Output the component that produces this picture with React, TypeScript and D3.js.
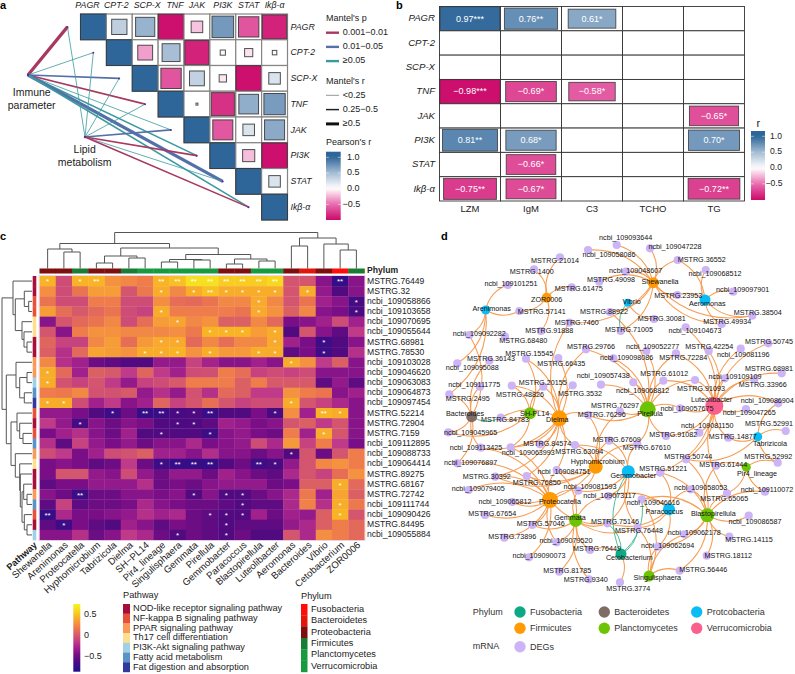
import React from "react";
import * as d3 from "d3";

const FONT = "'Liberation Sans', Arial, sans-serif";

/* ---------- panel a ---------- */
const genes = ["PAGR", "CPT-2", "SCP-X", "TNF", "JAK", "PI3K", "STAT", "Ikβ-α"];
const pearsonRows: number[][] = [
  [1, 0.35, 0.55, -0.97, -0.2, 0.7, -0.62, -0.88],
  [1, -0.33, 0.48, -0.88, 0.04, -0.1, 0.03],
  [1, -0.62, 0.33, -0.08, -0.97, 0.2],
  [1, 0.006, -0.8, 0.58, 0.68],
  [1, -0.6, 0.2, 0.6],
  [1, -0.22, -0.97],
  [1, 0.2],
  [1],
];
const mantelSources = ["Immune", "Lipid"];
// p class: 0 = 0.001-0.01, 1 = 0.01-0.05, 2 = >=0.05; r class: 0 <0.25, 1 0.25-0.5, 2 >=0.5
const mantelP = [
  [0, 2, 1, 0, 2, 2, 1, 2],
  [2, 2, 2, 2, 1, 0, 2, 0],
];
const mantelR = [
  [2, 0, 1, 1, 0, 1, 2, 1],
  [0, 0, 0, 0, 1, 1, 0, 1],
];
const mantelPLabels = ["0.001−0.01", "0.01−0.05", "≥0.05"];
const mantelRLabels = ["<0.25", "0.25−0.5", "≥0.5"];

/* ---------- panel b ---------- */
const clinical = ["LZM", "IgM", "C3", "TCHO", "TG"];
const corrRows: (number | null)[][] = [
  [0.97, 0.76, 0.61, null, null],
  [null, null, null, null, null],
  [null, null, null, null, null],
  [-0.98, -0.69, -0.58, null, null],
  [null, null, null, null, -0.65],
  [0.81, 0.68, null, null, 0.7],
  [null, -0.66, null, null, null],
  [-0.75, -0.67, null, null, -0.72],
];
const corrStars = [
  ["***", "**", "*", "", ""],
  ["", "", "", "", ""],
  ["", "", "", "", ""],
  ["***", "*", "*", "", ""],
  ["", "", "", "", "*"],
  ["**", "*", "", "", "*"],
  ["", "*", "", "", ""],
  ["**", "*", "", "", "**"],
];

/* ---------- panel c ---------- */
const taxa = ["Shewanella", "Arenimonas", "Proteocatella", "Hyphomicrobium", "Tabrizicola", "Dielma", "SH−PL14", "Pir4_lineage", "Singulisphaera", "Gemmata", "Pirellula", "Gemmobacter", "Paracoccus", "Blastopirellula", "Luteolibacter", "Aeromonas", "Bacteroides", "Vibrio", "Cetobacterium", "ZOR0006"];
const taxaPhylum = [2, 2, 3, 2, 2, 3, 4, 4, 4, 4, 4, 2, 2, 4, 5, 2, 1, 2, 0, 3];
const phylumNames = ["Fusobacteria", "Bacteroidetes", "Proteobacteria", "Firmicutes", "Planctomycetes", "Verrucomicrobia"];
const phylumColors = ["#ff0d0d", "#e2170c", "#7d0f0f", "#1b7d35", "#1a9a3e", "#1a9a3e"];
const pathwayNames = ["NOD-like receptor signaling pathway", "NF-kappa B signaling pathway", "PPAR signaling pathway", "Th17 cell differentiation", "PI3K-Akt signaling pathway", "Fatty acid metabolism", "Fat digestion and absorption"];
const pathwayColors = ["#a50f3a", "#e8503a", "#f99a58", "#fce08f", "#9fd0e6", "#5b93c6", "#313a9a"];
const geneRows = ["MSTRG.76449", "MSTRG.32", "ncbi_109058866", "ncbi_109103658", "ncbi_109070695", "ncbi_109055644", "MSTRG.68981", "MSTRG.78530", "ncbi_109103028", "ncbi_109046620", "ncbi_109063083", "ncbi_109064873", "ncbi_109097454", "MSTRG.52214", "MSTRG.72904", "MSTRG.7159", "ncbi_109112895", "ncbi_109088733", "ncbi_109064414", "MSTRG.89275", "MSTRG.68167", "MSTRG.72742", "ncbi_109111744", "ncbi_109090426", "MSTRG.84495", "ncbi_109055884"];
const rowPathway = [0, 0, 1, 1, 3, 3, 0, 0, 2, 2, 4, 5, 6, 1, 0, 1, 5, 2, 3, 0, 0, 2, 5, 1, 0, 4];
const heat: number[][] = [
  [.45, -.05, .45, .45, .3, .25, .2, .45, .5, .65, .65, .55, .55, .55, .6, 0, 0, -.4, -.75, -.4],
  [.28, -.05, .15, .35, .35, 0, .18, .42, .25, .42, .5, .42, .42, .42, .42, 0, .42, -.35, -.6, -.4],
  [.15, -.05, -.05, .2, .2, -.05, -.05, .28, .12, .1, .15, .25, .25, .4, .25, 0, .15, -.3, -.4, -.65],
  [.35, .12, .02, .1, .15, -.05, -.1, .42, .2, .2, .2, .2, .15, .4, .3, .05, .25, -.4, -.45, -.65],
  [-.4, 0, .1, .15, .25, -.05, .12, .35, .38, .25, .3, .05, .05, .25, .1, -.45, -.4, -.3, -.05, -.3],
  [0, -.4, .2, .3, .3, .25, .25, .25, .28, .18, .45, .45, .45, .35, .42, -.6, 0, -.4, -.55, -.15],
  [.08, -.1, -.1, .25, .35, .12, .33, .4, .4, .1, .25, .12, .25, .25, .4, -.3, -.45, -.7, -.6, -.4],
  [.05, -.2, .1, .38, .35, .3, .42, .42, .45, .3, .42, .33, .33, .42, .42, -.55, -.45, -.7, -.6, -.2],
  [.25, -.2, -.3, -.5, -.55, -.6, -.6, -.35, -.35, -.1, -.28, -.4, -.4, -.3, -.4, .42, .3, -.15, .05, -.4],
  [.42, .1, -.3, .05, .02, -.15, .08, -.15, -.3, -.05, -.03, .2, .12, -.1, -.05, -.1, -.05, -.4, -.4, -.4],
  [.42, -.02, -.1, 0, -.15, -.35, -.1, -.05, .02, .2, .2, .2, .05, .2, .02, .02, .02, -.55, -.35, -.55],
  [.2, .18, .25, -.02, -.02, .02, -.35, -.2, -.35, -.02, -.2, .1, .05, -.15, -.15, .3, .2, .15, -.4, -.3],
  [.42, .42, -.05, -.3, -.15, -.4, -.3, .08, -.1, 0, .13, 0, -.1, -.05, -.05, .42, 0, -.1, -.25, -.4],
  [-.35, -.35, -.45, -.6, -.7, -.5, -.75, -.72, -.65, -.62, -.72, -.6, -.6, -.45, -.65, .28, -.3, .45, .42, -.4],
  [-.15, -.35, -.65, -.4, -.5, -.4, -.45, -.6, -.62, -.62, -.55, -.3, -.35, -.45, -.4, 0, .05, -.15, 0, -.4],
  [-.45, -.3, -.2, -.4, -.5, -.3, -.6, -.6, -.6, -.6, -.7, -.4, -.35, -.45, -.5, .2, -.3, .42, 0, -.4],
  [-.2, -.55, -.1, -.35, -.45, -.35, -.5, -.4, -.4, -.25, -.45, -.4, -.35, -.05, -.25, .33, -.1, .2, -.15, -.45],
  [-.05, -.15, -.45, -.3, -.05, -.02, .05, -.3, -.3, -.4, -.22, -.4, -.4, -.5, -.4, -.6, 0, -.5, 0, .2],
  [-.45, -.4, -.45, -.55, -.5, -.15, -.5, -.7, -.75, -.75, -.75, -.6, -.5, -.7, -.65, -.35, 0, .25, .3, .2],
  [-.45, 0, 0, -.35, -.4, -.05, -.35, -.5, -.35, -.35, -.5, -.3, -.4, -.5, -.55, -.25, 0, -.1, .12, .3],
  [-.55, -.45, -.45, -.35, -.35, -.35, -.2, -.5, -.45, -.5, -.4, -.35, -.35, -.35, -.5, -.45, .05, .05, .42, .1],
  [-.4, -.5, -.7, -.5, -.5, -.4, -.4, -.45, -.4, -.6, -.4, -.6, -.6, -.5, -.4, -.25, .18, -.3, .38, .05],
  [-.55, -.1, -.55, -.5, -.5, -.45, -.25, -.4, -.45, -.5, -.5, -.55, -.6, -.55, -.55, -.25, .22, -.2, .42, .18],
  [-.75, -.25, -.45, -.45, -.4, -.35, -.2, -.3, -.25, -.5, -.55, -.6, -.6, -.3, -.5, -.3, -.35, .05, .45, 0],
  [-.55, -.7, -.45, -.55, -.6, -.3, -.4, -.55, -.45, -.5, -.55, -.6, -.55, -.55, -.55, -.35, -.25, .05, .2, .1],
  [-.4, -.4, -.2, -.5, -.4, -.15, -.25, -.5, -.6, -.5, -.55, -.6, -.5, -.6, -.6, 0, -.25, .28, .2, .1],
];
const heatStars = [
  "10120002222222200020", "00000001012111101000", "00000000000001000001", "00000001000001000001",
  "00000000100000000000", "00000000001110100000", "00000001100000100100", "00000011101001100100",
  "00000000000000010000", "10000000000000000000", "10000000000000000000", "00000000000000000000",
  "11000000000000010000", "00001022112000100210", "00100000110000000000", "00000001001000000100",
  "00000000000000000000", "00000000000000010000", "00000001222002100000", "00000000000000000000",
  "00000000000000000010", "00200000010110000000", "00000000000010000010", "20000000001110000010",
  "01000000000100000000", "00000000100100000000",
];
type Tree = number | { h: number; c: [Tree, Tree] };
const n = (h: number, a: Tree, b: Tree): Tree => ({ h, c: [a, b] });
// leaves are column / row indices, heights in dendrogram units
const colTree: Tree = n(36,
  n(25,
    n(19.5, 0, n(16.5, 1, 2)),
    n(20.5,
      n(12.5, n(5.5, 3, 4), n(10.5, 5, 6)),
      n(14, n(9, n(6.5, 7, 8), n(8.5, 9, 10)), n(9.5, n(4.5, 11, 12), n(7.5, 13, 14))))),
  n(30.5,
    n(22.5, 15, 16),
    n(24.5, 17, n(18.5, 18, 19))));
const rowTree: Tree = n(30,
  n(19, 0, n(16.7,
    n(7.7, 1, n(3.3, 2, 3)),
    n(10, 4, n(8, 5, n(5, 6, 7))))),
  n(25.7,
    n(16, 8, n(12.3, n(5, 9, 10), n(7.7, 11, 12))),
    n(21,
      n(15, 13, n(12.3, 14, n(9, 15, 16))),
      n(16.7, 17, n(12.3, 18, n(11.7, 19, n(10,
        n(8.3, 20, n(5, 21, 22)),
        n(7.7, 23, n(5, 24, 25)))))))));

/* ---------- panel d ---------- */
type Kind = "deg" | "firm" | "plan" | "prot" | "verr" | "bact" | "fuso";
const kindColors: Record<Kind, string> = { deg: "#cdb4f6", firm: "#ff9a05", plan: "#6cc404", prot: "#08bdf5", verr: "#fb5f8c", bact: "#806c66", fuso: "#0da884" };
// name, kind, layout x, layout y, label x, label y
const netNodes: [string, Kind, number, number, number, number][] = [
  ["ncbi_109093644", "deg", 616.7, 245, 625.7, 238], ["ncbi_109047228", "deg", 650, 248.3, 675, 247.3], ["ncbi_109058086", "deg", 588, 250, 609, 255],
  ["MSTRG.21014", "deg", 560, 257.3, 555, 261], ["MSTRG.1400", "deg", 534, 269.3, 531.7, 272], ["ncbi_109101251", "deg", 507.7, 285, 511, 284.3],
  ["MSTRG.61475", "deg", 571.7, 287.3, 578.7, 289], ["MSTRG.57141", "deg", 519.3, 311, 541.7, 312.3], ["MSTRG.7460", "deg", 569.3, 322.7, 576.7, 322.7],
  ["MSTRG.91888", "deg", 541, 331, 549.3, 331], ["ncbi_109092282", "deg", 469.3, 335, 479.3, 333.7], ["MSTRG.68480", "deg", 505, 336.7, 523.3, 340.7],
  ["MSTRG.29766", "deg", 586, 349.3, 591, 347.3], ["MSTRG.15545", "deg", 526, 358.7, 529.3, 354], ["MSTRG.66435", "deg", 558.3, 358, 561.3, 364.3],
  ["MSTRG.36143", "deg", 489.3, 360.7, 491, 359.3], ["ncbi_109095088", "deg", 457.3, 363.3, 472.3, 368.3], ["ncbi_109111775", "deg", 480, 386.7, 474.3, 385],
  ["MSTRG.2495", "deg", 449.3, 394.3, 467.7, 398.7], ["MSTRG.20155", "deg", 543.3, 386.7, 542.7, 383], ["MSTRG.48826", "deg", 511.7, 385.7, 520, 395.3],
  ["MSTRG.3532", "deg", 572.7, 385.3, 580, 394], ["MSTRG.84783", "deg", 500.7, 417.7, 505, 420], ["ncbi_109045965", "deg", 448.3, 432.3, 470.7, 433],
  ["MSTRG.84574", "deg", 540, 444.3, 547.3, 444], ["ncbi_109113425", "deg", 480.7, 447.7, 476, 447.7], ["ncbi_109063993", "deg", 510.7, 447.3, 528.3, 453.3],
  ["MSTRG.63094", "deg", 575, 445, 579.3, 452], ["ncbi_109076897", "deg", 457.3, 463.3, 470.7, 463.3], ["MSTRG.30392", "deg", 495.3, 476.7, 486.7, 477.3],
  ["MSTRG.76850", "deg", 526.7, 476, 536.7, 483.3], ["ncbi_109084751", "deg", 556.7, 470, 564, 472.3], ["ncbi_109079405", "deg", 468.7, 490, 478.3, 489],
  ["ncbi_109081593", "deg", 578.3, 490.7, 590, 486.7], ["ncbi_109073117", "deg", 608.3, 496, 609.5, 496], ["ncbi_109065812", "deg", 512.3, 502, 505, 502.3],
  ["MSTRG.67654", "deg", 485, 515, 492.3, 514.3], ["MSTRG.57046", "deg", 532.3, 525, 540.7, 524], ["MSTRG.75146", "deg", 607.3, 523.3, 615, 522],
  ["MSTRG.73896", "deg", 504.3, 537.7, 512.3, 536.7], ["ncbi_109079520", "deg", 556.7, 542.3, 566, 541], ["MSTRG.76449", "deg", 590, 550, 597, 549],
  ["ncbi_109090073", "deg", 529, 557.3, 539, 556], ["MSTRG.81785", "deg", 559.3, 571.7, 567.3, 570.7], ["MSTRG.9340", "deg", 589, 579.3, 585.7, 580],
  ["MSTRG.3774", "deg", 620, 582.3, 628.3, 589.3], ["MSTRG.56446", "deg", 679.7, 570.7, 703.3, 570], ["MSTRG.18112", "deg", 706.7, 555.7, 728.3, 556],
  ["MSTRG.14115", "deg", 729.3, 536.7, 749, 540], ["ncbi_109062694", "deg", 658.3, 546.7, 667.7, 546], ["ncbi_109062178", "deg", 684.3, 534.3, 694.3, 533],
  ["MSTRG.76448", "deg", 637.7, 527.7, 639, 531.3], ["ncbi_109046616", "deg", 641.7, 499.3, 653.3, 502.7], ["ncbi_109086587", "deg", 748.7, 515.7, 755, 522.3],
  ["ncbi_109058053", "deg", 691, 489.3, 700.7, 488], ["MSTRG.65065", "deg", 727, 493.3, 724.3, 499], ["ncbi_109110072", "deg", 765, 491.7, 767, 489.7],
  ["MSTRG.61444", "deg", 716, 465.7, 723.3, 465.3], ["MSTRG.52992", "deg", 777.7, 462.7, 768.3, 456.7], ["MSTRG.50744", "deg", 686, 459.3, 688.3, 457.3],
  ["MSTRG.51221", "deg", 660.3, 472.7, 663.3, 469.3], ["MSTRG.36552", "deg", 677.7, 260, 701.7, 260], ["ncbi_109068512", "deg", 705.7, 270, 715, 273.7],
  ["ncbi_109097901", "deg", 733.3, 291.7, 742.7, 290], ["ncbi_109048607", "deg", 626, 271.7, 635.7, 270.7], ["MSTRG.49098", "deg", 599.3, 281.7, 611, 280],
  ["MSTRG.23953", "deg", 677.3, 295, 678.3, 296], ["MSTRG.88922", "deg", 610, 312, 604, 312.3], ["MSTRG.30081", "deg", 654, 319, 661.7, 319],
  ["MSTRG.38504", "deg", 752.3, 315.7, 757.7, 312.7], ["MSTRG.49934", "deg", 721.7, 324, 727.3, 322], ["MSTRG.71005", "deg", 620.7, 331, 629, 330.3],
  ["ncbi_109104673", "deg", 685.7, 327.3, 695, 331], ["MSTRG.50745", "deg", 768.3, 343.3, 769, 342], ["MSTRG.42254", "deg", 708.7, 351, 709.3, 346.7],
  ["ncbi_109081196", "deg", 740.7, 348.7, 743.3, 355], ["ncbi_109052277", "deg", 646.3, 351, 652.7, 346.7], ["MSTRG.72284", "deg", 676, 353.3, 683.3, 358.3],
  ["ncbi_109098086", "deg", 613.3, 358.3, 626.7, 358.3], ["ncbi_109057438", "deg", 601, 384.7, 603.3, 375.7], ["MSTRG.61012", "deg", 663.3, 380.7, 664.3, 374],
  ["ncbi_109068812", "deg", 633.3, 382.3, 642.7, 390.7], ["MSTRG.91093", "deg", 695, 380, 701, 389.3], ["ncbi_109109109", "deg", 725, 378.3, 735, 377],
  ["MSTRG.68981", "deg", 781.7, 373.3, 769, 369], ["MSTRG.33966", "deg", 754.3, 379.3, 762.7, 385], ["ncbi_109086904", "deg", 778.3, 403.3, 767.3, 400.7],
  ["ncbi_109057675", "deg", 680, 408.3, 687, 409.3], ["ncbi_109047265", "deg", 746, 409, 749.3, 412.7], ["MSTRG.76297", "deg", 620, 411.7, 615, 406],
  ["MSTRG.76296", "deg", 588.3, 415, 601.7, 415], ["MSTRG.52991", "deg", 785.7, 431, 769, 424.3], ["MSTRG.14877", "deg", 728.3, 437.7, 732.7, 437],
  ["ncbi_109081150", "deg", 699.3, 432.7, 707.3, 425.7], ["MSTRG.91082", "deg", 666, 436, 673.3, 435], ["MSTRG.67609", "deg", 609.3, 440.7, 616.7, 439.7],
  ["MSTRG.67610", "deg", 637.3, 444, 646.7, 448.3],
  ["ZOR0006", "firm", 546.7, 297.7, 546.7, 300], ["Arenimonas", "prot", 485.7, 310, 491.7, 309.3], ["Bacteroides", "bact", 471.7, 416.7, 465, 414],
  ["SH-PL14", "plan", 530, 413.3, 534.7, 413.7], ["Dielma", "firm", 559.3, 418.3, 557.3, 420], ["Hyphomicrobium", "firm", 595.7, 466.7, 597.7, 462.3],
  ["Proteocatella", "firm", 550, 500, 560, 502.3], ["Gemmata", "plan", 575.7, 520.3, 570, 517.7], ["Cetobacterium", "fuso", 621, 554, 629.3, 557.7],
  ["Singulisphaera", "plan", 649, 576, 657.3, 578], ["Paracoccus", "prot", 669, 509.3, 664.3, 512], ["Blastopirellula", "plan", 707.3, 515.3, 713.3, 514.3],
  ["Pir4_lineage", "plan", 746.3, 467.3, 757, 474], ["Gemmobacter", "prot", 628.3, 471.7, 633.3, 476], ["Shewanella", "firm", 653.3, 282.7, 660, 282.3],
  ["Aeromonas", "prot", 705, 300, 707.3, 304.3], ["Vibrio", "prot", 627.7, 302.7, 631.7, 301.7], ["Luteolibacter", "verr", 714.3, 406, 711.7, 399.7],
  ["Pirellula", "plan", 647.7, 409.3, 650, 414], ["Tabrizicola", "prot", 757.7, 436.7, 770, 443.7],
];
const hubSizes: Record<string, number> = { ZOR0006: 5, Arenimonas: 4.5, Bacteroides: 5.5, "SH-PL14": 6, Dielma: 8, Hyphomicrobium: 7, Proteocatella: 8, Gemmata: 6.5, Cetobacterium: 5.5, Singulisphaera: 5.5, Paracoccus: 6, Blastopirellula: 7, "Pir4_lineage": 4.5, Gemmobacter: 6.5, Shewanella: 5.5, Aeromonas: 5.5, Vibrio: 4, Luteolibacter: 9, Pirellula: 8, Tabrizicola: 4.5 };
const hubEdges: Record<string, string[]> = {
  ZOR0006: ["21014", "1400", "61475", "57141", "91888"],
  Arenimonas: ["101251", "57141", "92282", "95088", "2495"],
  Bacteroides: ["36143", "111775", "2495", "45965", "113425", "76897", "92282"],
  "SH-PL14": ["48826", "15545", "84783", "20155", "63993", "45965"],
  Dielma: ["20155", "66435", "3532", "29766", "7460", "48826", "84574", "113425", "63993", "84783", "76296", "63094", "30392", "76850", "84751", "15545"],
  Pirellula: ["61012", "68812", "57438", "52277", "98086", "76297", "57675", "91082", "76296", "72284", "91093", "67610", "29766", "88922"],
  Luteolibacter: ["42254", "81196", "50745", "68981", "33966", "86904", "47265", "109109", "91093", "104673", "72284", "57675", "81150", "50744", "51221", "91082", "14877", "61012", "65065"],
  Shewanella: ["48607", "36552", "49098", "23953", "38504", "49934", "88922", "71005", "47228", "58086", "93644", "7460"],
  Aeromonas: ["36552", "68512", "97901", "23953", "38504", "49934"],
  Vibrio: ["30081"],
  Tabrizicola: ["52991", "86904", "14877", "52992", "50744"],
  Hyphomicrobium: ["67609", "63094", "76296", "76297", "81593", "84751", "67610", "76850", "30392", "65812"],
  Proteocatella: ["30392", "76850", "79405", "65812", "67654", "57046", "73896", "79520", "90073", "84751", "81593", "63993", "113425", "76897", "75146"],
  Gemmata: ["57046", "79520", "75146", "73117", "81593", "76449", "81785", "9340", "76448", "84751"],
  Gemmobacter: ["51221", "81593", "73117", "67609", "67610", "75146", "76448", "63094"],
  Paracoccus: ["46616", "58053", "62694", "51221", "75146", "76448", "73117"],
  Cetobacterium: ["3774", "76449"],
  Singulisphaera: ["62694", "56446", "76448", "62178", "46616"],
  Blastopirellula: ["58053", "65065", "61444", "50744", "86587", "14115", "18112", "56446", "62178", "62694", "46616", "110072", "51221"],
  "Pir4_lineage": ["61444", "65065", "110072", "52992"],
};
const tealEdges: [string, string][] = [["Vibrio", "71005"], ["Bacteroides", "84783"], ["Cetobacterium", "76448"], ["Cetobacterium", "46616"], ["Cetobacterium", "75146"], ["Gemmobacter", "Cetobacterium"]];
const legendPhyla: [string, Kind][] = [["Fusobacteria", "fuso"], ["Firmicutes", "firm"], ["Bacteroidetes", "bact"], ["Planctomycetes", "plan"], ["Protcobacteria", "prot"], ["Verrucomicrobia", "verr"]];

/* ---------- scales ---------- */
const pearsonColor = d3.scaleLinear<string>().domain([-1, -0.5, 0, 0.5, 1]).range(["#cb0a6a", "#e86cae", "#ffffff", "#a3bbd3", "#2e6699"]).clamp(true);
const heatColor = d3.scaleLinear<string>()
  .domain([-0.86, -0.6, -0.45, -0.3, -0.15, 0, 0.15, 0.3, 0.45, 0.6, 0.76])
  .range(["#1e0f8c", "#520a80", "#7a0e86", "#a0208c", "#bf3a88", "#d4566e", "#ea7350", "#f59240", "#f9b425", "#f7d820", "#f5f51f"])
  .clamp(true);
const pColors = ["#a8385e", "#5470a8", "#3b9aa0"];
const linkWidths = [0.8, 1.6, 3.2];
const rLegendWidths = [0.9, 1.5, 3];
const rLegendColors = ["#8a8a8a", "#222", "#111"];

const aX = d3.scaleBand<number>().domain(d3.range(8)).range([80.5, 287.5]);
const aY = d3.scaleBand<number>().domain(d3.range(8)).range([14, 220]);
const bX = d3.scaleBand<number>().domain(d3.range(5)).range([439.5, 744.5]);
const bY = d3.scaleBand<number>().domain(d3.range(8)).range([6.5, 201]);
const cX = d3.scaleBand<number>().domain(d3.range(20)).range([39.5, 364.5]);
const cY = d3.scaleBand<number>().domain(d3.range(26)).range([276, 540]);
const colH = d3.scaleLinear().domain([0, 36]).range([268.5, 232.5]);
const rowH = d3.scaleLinear().domain([0, 30]).range([32, 2]);
const netX = d3.scaleIdentity();
const netY = d3.scaleIdentity();

const sourcePos = [[28, 75], [85, 137]];
const aLabelDx = [-6, -3, 2, 4, 0, 0, 0, 0];

function treeSegments(t: Tree, leaf: (i: number) => number, hs: (h: number) => number, vertical: boolean) {
  const segs: [number, number, number, number][] = [];
  const walk = (nd: Tree): [number, number] => {
    if (typeof nd === "number") return [leaf(nd), hs(0)];
    const [p1, h1] = walk(nd.c[0]);
    const [p2, h2] = walk(nd.c[1]);
    const h = hs(nd.h);
    if (vertical) {
      segs.push([p1, h1, p1, h], [p2, h2, p2, h], [p1, h, p2, h]);
    } else {
      segs.push([h1, p1, h, p1], [h2, p2, h, p2], [h, p1, h, p2]);
    }
    return [(p1 + p2) / 2, h];
  };
  walk(t);
  return segs;
}

function Bar({ x, y0, y1, w, color, domain, id, ticks, tickY }: any) {
  const stops = d3.range(0, 1.001, 0.05);
  const val = d3.scaleLinear().domain([0, 1]).range(domain);
  return (
    <g>
      <defs>
        <linearGradient id={id} x1="0" x2="0" y1="0" y2="1">
          {stops.map((s: number) => <stop key={s} offset={s} stopColor={color(val(s))} />)}
        </linearGradient>
      </defs>
      <rect x={x} y={y0} width={w} height={y1 - y0} fill={`url(#${id})`} />
      {ticks.map((t: number) => (
        <g key={t}>
          <line x1={x} x2={x + 2.8} y1={tickY(t)} y2={tickY(t)} stroke="#fff" strokeWidth={0.5} />
          <line x1={x + w - 2.8} x2={x + w} y1={tickY(t)} y2={tickY(t)} stroke="#fff" strokeWidth={0.5} />
        </g>
      ))}
    </g>
  );
}

const fmt = (v: number) => (v < 0 ? "−" : "") + Math.abs(v).toFixed(2);
const fmtT = (v: number) => (v < 0 ? "−" : "") + Math.abs(v).toFixed(1);

function PanelA() {
  const diag = (i: number) => [aX(i)! + aX.bandwidth() / 2 - 26 + 0, aY(i)! + aY.bandwidth() / 2];
  const legY = d3.scaleLinear().domain([0, 1]).range([188.7, 157.3]);
  return (
    <g>
      {mantelSources.map((s, si) => (
        <g key={s}>
          {genes.map((g, gi) => {
            const [x, y] = diag(gi);
            return <line key={g} x1={sourcePos[si][0]} y1={sourcePos[si][1]} x2={x} y2={y} stroke={pColors[mantelP[si][gi]]} strokeWidth={linkWidths[mantelR[si][gi]]} />;
          })}
        </g>
      ))}
      {genes.map((_, gi) => { const [x, y] = diag(gi); return <circle key={gi} cx={x} cy={y} r={1} fill="#5a2d9a" />; })}
      {sourcePos.map((p, i) => <circle key={i} cx={p[0]} cy={p[1]} r={1.2} fill="#5a2d9a" />)}
      {pearsonRows.map((row, ri) => row.map((v, k) => {
        const ci = ri + k;
        const bw = aX.bandwidth(), bh = aY.bandwidth();
        const side = Math.sqrt(Math.abs(v));
        return (
          <g key={ci + "-" + ri}>
            <rect x={aX(ci)} y={aY(ri)} width={bw} height={bh} fill="#fff" stroke="#858585" strokeWidth={1.2} />
            <rect x={aX(ci)! + bw * (1 - side) / 2} y={aY(ri)! + bh * (1 - side) / 2} width={bw * side} height={bh * side} fill={pearsonColor(v)} stroke="#333" strokeOpacity={0.85} strokeWidth={1} />
          </g>
        );
      }))}
      {genes.map((g, i) => (
        <text key={g} x={aX(i)! + aX.bandwidth() / 2 + aLabelDx[i]} y={5.7} dominantBaseline="middle" textAnchor="middle" fontSize={8.8} fontStyle="italic" fill="#222">{g}</text>
      ))}
      {genes.map((g, i) => (
        <text key={g} x={290.5} y={aY(i)! + aY.bandwidth() / 2 + 0.5} dominantBaseline="middle" fontSize={8.8} fontStyle="italic" fill="#222">{g}</text>
      ))}
      <text textAnchor="middle" fontSize={10.5} fill="#222"><tspan x={31.7} y={96}>Immune</tspan><tspan x={31.7} y={109}>parameter</tspan></text>
      <text textAnchor="middle" fontSize={10.5} fill="#222"><tspan x={84.7} y={152.5}>Lipid</tspan><tspan x={84.7} y={165.5}>metabolism</tspan></text>
      <text x={326} y={21} fontSize={9} fill="#222">Mantel's p</text>
      {mantelPLabels.map((l, i) => (
        <g key={l}>
          <line x1={326} x2={339} y1={32.7 + i * 14.2} y2={32.7 + i * 14.2} stroke={pColors[i]} strokeWidth={2.4} />
          <text x={342.7} y={32.7 + i * 14.2} dominantBaseline="middle" fontSize={9} fill="#222">{l}</text>
        </g>
      ))}
      <text x={326} y={84} fontSize={9} fill="#222">Mantel's r</text>
      {mantelRLabels.map((l, i) => (
        <g key={l}>
          <line x1={326} x2={339} y1={95.3 + i * 14.3} y2={95.3 + i * 14.3} stroke={rLegendColors[i]} strokeWidth={rLegendWidths[i]} />
          <text x={342.7} y={95.3 + i * 14.3} dominantBaseline="middle" fontSize={9} fill="#222">{l}</text>
        </g>
      ))}
      <text x={326} y={145} fontSize={9} fill="#222">Pearson's r</text>
      <Bar x={326} y0={151.7} y1={220} w={14.7} color={pearsonColor} domain={[1.16, -1]} id="gradA" ticks={[1, 0.5, 0, -0.5]} tickY={legY} />
      {[1, 0.5, 0, -0.5].map((t) => (
        <text key={t} x={t < 0 ? 342.5 : 347} y={legY(t)} dominantBaseline="middle" fontSize={9} fill="#222">{fmtT(t)}</text>
      ))}
    </g>
  );
}

function PanelB() {
  const legY = d3.scaleLinear().domain([0, 1]).range([168, 136.3]);
  return (
    <g>
      {corrRows.map((row, ri) => row.map((v, ci) => {
        const bw = bX.bandwidth(), bh = bY.bandwidth();
        const side = v === null ? 0 : Math.sqrt(Math.abs(v));
        return (
          <g key={ci + "-" + ri}>
            <rect x={bX(ci)} y={bY(ri)} width={bw} height={bh} fill="#fff" stroke="#333" strokeWidth={0.9} />
            {v !== null && (
              <g>
                <rect x={bX(ci)! + bw * (1 - side) / 2} y={bY(ri)! + bh * (1 - side) / 2} width={bw * side} height={bh * side} fill={pearsonColor(v)} stroke="#333" strokeOpacity={0.85} strokeWidth={0.9} />
                <text x={bX(ci)! + bw / 2} y={bY(ri)! + bh / 2 + 0.5} dominantBaseline="middle" textAnchor="middle" fontSize={9} fill="#fff">{fmt(v) + corrStars[ri][ci]}</text>
              </g>
            )}
          </g>
        );
      }))}
      {genes.map((g, i) => (
        <text key={g} x={435} y={bY(i)! + bY.bandwidth() / 2 + 0.3} dominantBaseline="middle" textAnchor="end" fontSize={9.6} fontStyle="italic" fill="#222">{g}</text>
      ))}
      {clinical.map((g, i) => (
        <text key={g} x={bX(i)! + bX.bandwidth() / 2} y={209.7} dominantBaseline="middle" textAnchor="middle" fontSize={9.5} fill="#222">{g}</text>
      ))}
      <text x={758.3} y={126.5} textAnchor="middle" fontSize={11} fill="#222">r</text>
      <Bar x={751} y0={131} y1={200} w={14} color={pearsonColor} domain={[1.16, -1]} id="gradB" ticks={[1, 0.5, 0, -0.5]} tickY={legY} />
      {[1, 0.5, 0, -0.5].map((t) => (
        <text key={t} x={t < 0 ? 765.5 : 770} y={legY(t)} dominantBaseline="middle" fontSize={8.6} fill="#222">{fmtT(t)}</text>
      ))}
    </g>
  );
}

function PanelC() {
  const bw = cX.bandwidth(), bh = cY.bandwidth();
  const colSegs = treeSegments(colTree, (i) => cX(i)! + bw / 2, colH, true);
  const rowSegs = treeSegments(rowTree, (i) => cY(i)! + bh / 2, rowH, false);
  const legY = d3.scaleLinear().domain([0.5, -0.5]).range([615, 656.7]);
  const pathLeg = d3.scaleBand<number>().domain(d3.range(7)).range([604, 672]);
  const phyLeg = d3.scaleBand<number>().domain(d3.range(6)).range([604, 672]);
  return (
    <g>
      {colSegs.map((s, i) => <line key={i} x1={s[0]} y1={s[1]} x2={s[2]} y2={s[3]} stroke="#555" strokeWidth={1} />)}
      {rowSegs.map((s, i) => <line key={i} x1={s[0]} y1={s[1]} x2={s[2]} y2={s[3]} stroke="#555" strokeWidth={1} />)}
      {taxaPhylum.map((p, i) => <rect key={i} x={cX(i)} y={268.5} width={bw + 0.3} height={5} fill={phylumColors[p]} />)}
      {rowPathway.map((p, i) => <rect key={i} x={32.7} y={cY(i)} width={3.6} height={bh + 0.3} fill={pathwayColors[p]} />)}
      {heat.map((row, ri) => row.map((v, ci) => (
        <rect key={ri + "-" + ci} x={cX(ci)} y={cY(ri)} width={bw + 0.3} height={bh + 0.3} fill={heatColor(v)} />
      )))}
      <rect x={39} y={275.5} width={326} height={265} fill="none" stroke="#e8cfe6" strokeWidth={0.8} />
      {heatStars.map((row, ri) => row.split("").map((c, ci) => c === "0" ? null : (
        <text key={ri + "-" + ci} x={cX(ci)! + bw / 2} y={cY(ri)! + bh / 2 + 3.4} textAnchor="middle" fontSize={8} fill="#fff">{"*".repeat(+c)}</text>
      )))}
      {geneRows.map((g, i) => (
        <text key={g} x={367} y={cY(i)! + bh / 2 + 0.3} dominantBaseline="middle" fontSize={8.6} fill="#222">{g}</text>
      ))}
      <text x={367} y={270.5} dominantBaseline="middle" fontSize={8.6} fontWeight="bold" fill="#222">Phylum</text>
      {taxa.map((t, i) => (
        <text key={t} transform={`translate(${cX(i)! + bw / 2 + 3},${544}) rotate(-42)`} textAnchor="end" dominantBaseline="middle" fontSize={9.6} fill="#222">{t}</text>
      ))}
      <text transform={`translate(36,544) rotate(-42)`} textAnchor="end" dominantBaseline="middle" fontSize={9.2} fontWeight="bold" fill="#222">Pathway</text>
      <Bar x={73.3} y0={604} y1={671.7} w={7} color={heatColor} domain={[0.76, -0.86]} id="gradC" ticks={[]} tickY={legY} />
      {[0.5, 0, -0.5].map((t) => (
        <text key={t} x={84} y={legY(t)} dominantBaseline="middle" fontSize={9} fill="#222">{t === 0 ? "0" : (t < 0 ? "−" : "") + Math.abs(t)}</text>
      ))}
      <text x={123} y={596} dominantBaseline="middle" fontSize={9.2} fill="#222">Pathway</text>
      {pathwayNames.map((p, i) => (
        <g key={p}>
          <rect x={123} y={pathLeg(i)} width={7} height={pathLeg.bandwidth() + 0.2} fill={pathwayColors[i]} />
          <text x={133} y={pathLeg(i)! + pathLeg.bandwidth() / 2} dominantBaseline="middle" fontSize={9.2} fill="#222">{p}</text>
        </g>
      ))}
      <text x={301} y={597} dominantBaseline="middle" fontSize={9.2} fill="#222">Phylum</text>
      {phylumNames.map((p, i) => (
        <g key={p}>
          <rect x={301} y={phyLeg(i)} width={6.5} height={phyLeg.bandwidth() + 0.2} fill={phylumColors[i]} />
          <text x={311} y={phyLeg(i)! + phyLeg.bandwidth() / 2} dominantBaseline="middle" fontSize={9.2} fill="#222">{p}</text>
        </g>
      ))}
    </g>
  );
}

function PanelD() {
  const find = (k: string) => netNodes.find((nd) => nd[0] === k || nd[0].endsWith("." + k) || nd[0].endsWith(k))!;
  const arc = (a: string, b: string, sign: number) => {
    const s = find(a), t = find(b);
    const x0 = netX(s[2]), y0 = netY(s[3]), x1 = netX(t[2]), y1 = netY(t[3]);
    const mx = (x0 + x1) / 2, my = (y0 + y1) / 2;
    const p = d3.path();
    p.moveTo(x0, y0);
    p.quadraticCurveTo(mx - (y1 - y0) * 0.28 * sign, my + (x1 - x0) * 0.28 * sign, x1, y1);
    return p.toString();
  };
  const edges: { a: string; b: string; s: number }[] = [];
  Object.entries(hubEdges).forEach(([h, list]) => list.forEach((k) => {
    const s = find(h), t = find(k);
    edges.push({ a: h, b: k, s: (t[2] - s[2]) * (t[3] - s[3]) >= 0 ? 1 : -1 });
  }));
  return (
    <g>
      {edges.map((e, i) => <path key={i} d={arc(e.a, e.b, e.s)} fill="none" stroke="#f79c52" strokeWidth={1.05} />)}
      {tealEdges.map((e, i) => <path key={i} d={arc(e[0], e[1], 1)} fill="none" stroke="#3cb489" strokeWidth={0.9} />)}
      {netNodes.map((nd) => (
        <circle key={nd[0]} cx={netX(nd[2])} cy={netY(nd[3])} r={hubSizes[nd[0]] ?? 4.1} fill={kindColors[nd[1]]} />
      ))}
      {netNodes.map((nd) => (
        <text key={nd[0]} x={netX(nd[4])} y={netY(nd[5])} textAnchor="middle" dominantBaseline="middle" fontSize={7.2} fill="#111">{nd[0]}</text>
      ))}
      <text x={472.7} y={612.7} dominantBaseline="middle" fontSize={9} fill="#333">Phylum</text>
      <text x={472.7} y={647} dominantBaseline="middle" fontSize={9} fill="#333">mRNA</text>
      {legendPhyla.map(([name, kind], i) => {
        const col = Math.floor(i / 2);
        const cx = [520, 604.3, 696.7][col];
        const cy = i % 2 === 0 ? 612 : 628.2;
        return (
          <g key={name}>
            <circle cx={cx} cy={cy} r={5.7} fill={kindColors[kind]} />
            <text x={cx + 10} y={cy + 0.6} dominantBaseline="middle" fontSize={9} fill="#333">{name}</text>
          </g>
        );
      })}
      <circle cx={520} cy={646.7} r={5.7} fill={kindColors.deg} />
      <text x={530} y={647.3} dominantBaseline="middle" fontSize={9} fill="#333">DEGs</text>
    </g>
  );
}

export default function App() {
  return (
    <svg width={795} height={674} viewBox="0 0 795 674" style={{ position: "absolute", left: 0, top: 0, fontFamily: FONT, background: "#fff" }}>
      <PanelA />
      <PanelB />
      <PanelC />
      <PanelD />
      <text x={0} y={9} fontSize={11} fontWeight="bold">a</text>
      <text x={396} y={9} fontSize={11} fontWeight="bold">b</text>
      <text x={0} y={240} fontSize={11} fontWeight="bold">c</text>
      <text x={441} y={240} fontSize={11} fontWeight="bold">d</text>
    </svg>
  );
}
